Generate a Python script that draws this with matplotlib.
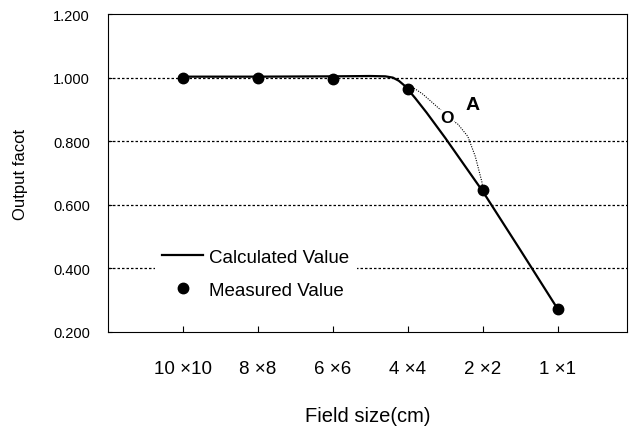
import matplotlib
matplotlib.use("Agg")
import matplotlib.pyplot as plt

plt.rcParams['font.family'] = ['Liberation Sans', 'DejaVu Sans']

# categorias del eje x (posiciones 1..6)
etiquetas = ["10 \u00d710", "8 \u00d78", "6 \u00d76", "4 \u00d74", "2 \u00d72", "1 \u00d71"]
pos_medidas = [1, 2, 3, 4, 5, 6]
val_medidos = [1.000, 1.000, 0.997, 0.965, 0.645, 0.272]

# curva calculada
pos_calc = [1.0, 2.0, 3.0, 3.5, 3.70, 3.80, 3.88, 3.95, 4.0, 4.1, 4.25, 4.5, 5.0, 5.5, 6.0]
val_calc = [1.003, 1.003, 1.004, 1.005, 1.004, 1.000, 0.990, 0.976, 0.963, 0.935, 0.890, 0.810, 0.642, 0.458, 0.272]

# curva punteada "A"
pos_a = [4.0, 4.05, 4.2, 4.43, 4.52, 4.67, 4.8, 4.9, 4.99, 5.0]
val_a = [0.965, 0.972, 0.948, 0.900, 0.878, 0.853, 0.815, 0.752, 0.670, 0.645]
punto_o = (4.52, 0.875)

fig = plt.figure(figsize=(6.35, 4.35), dpi=100)
ax = fig.add_axes([0.170, 0.2345, 0.817, 0.731])

# grilla punteada
for yv in [0.4, 0.6, 0.8, 1.0]:
    ax.axhline(yv, color='black', linestyle=(0, (2, 1.6)), linewidth=0.9, zorder=1)

ax.plot(pos_a, val_a, color='black', linestyle=(0, (1, 1.2)), linewidth=0.8, zorder=2)
ax.plot(pos_calc, val_calc, 'k-', linewidth=1.6, label='Calculated Value', zorder=3)
ax.plot(pos_medidas, val_medidos, 'ko', markersize=7.5, linestyle='none',
        label='Measured Value', zorder=4)

ax.text(punto_o[0], punto_o[1], "O", fontsize=12.5, fontweight='bold',
        ha='center', va='center', zorder=5,
        bbox=dict(facecolor='white', edgecolor='none', pad=0.2))
ax.text(4.87, 0.915, "A", fontsize=14, fontweight='bold', ha='center', va='center')

ax.set_xlim(0, 6.92)
ax.set_ylim(0.2, 1.2)
ax.set_xticks(pos_medidas)
ax.set_xticklabels(etiquetas, fontsize=13.5)
ax.set_yticks([0.2, 0.4, 0.6, 0.8, 1.0, 1.2])
ax.set_yticklabels(["%.3f" % v for v in [0.2, 0.4, 0.6, 0.8, 1.0, 1.2]], fontsize=10.5)
ax.tick_params(axis='x', direction='in', length=4, pad=20)
ax.tick_params(axis='y', direction='in', length=3, pad=13)

ax.set_xlabel("Field size(cm)", fontsize=14.5, labelpad=21)
ax.set_ylabel("Output facot", fontsize=12, labelpad=18)

leg = ax.legend(loc='lower left', bbox_to_anchor=(0.09, 0.08), fontsize=13.5,
                frameon=True, framealpha=1, facecolor='white', edgecolor='none',
                handlelength=2.2, handletextpad=0.3, borderaxespad=0, labelspacing=0.85)
leg.set_zorder(6)

fig.savefig("out.png", dpi=100)
